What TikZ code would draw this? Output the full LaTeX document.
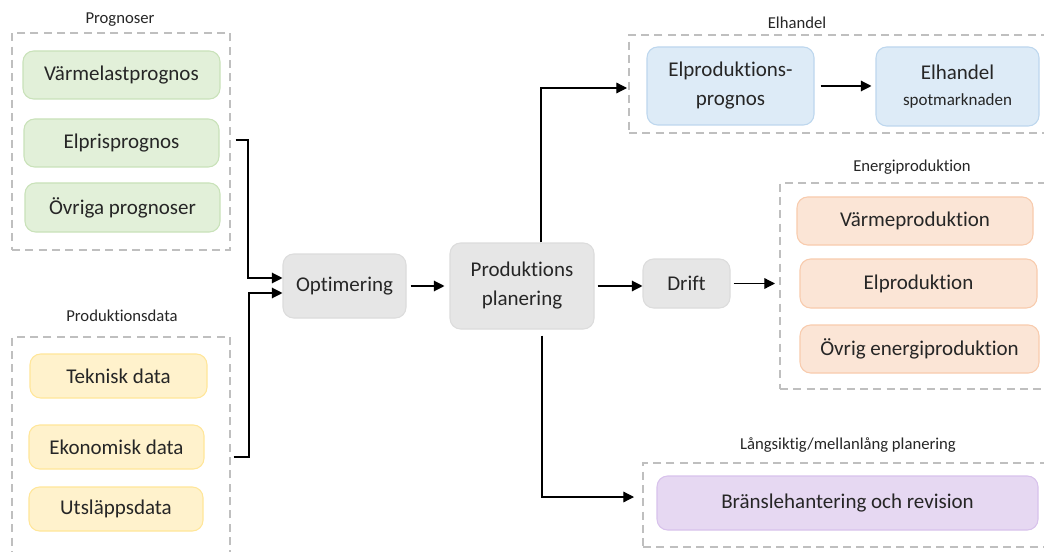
\documentclass[tikz,border=0pt]{standalone}
\usepackage{fontspec}
\setmainfont{Carlito}[Ligatures={NoCommon,NoRare,NoContextual}]
\usetikzlibrary{arrows.meta,calc}
\definecolor{txt}{HTML}{262626}
\definecolor{gfill}{HTML}{E2F0D9}\definecolor{gdraw}{HTML}{C9E2B9}
\definecolor{yfill}{HTML}{FFF2CC}\definecolor{ydraw}{HTML}{FFE699}
\definecolor{bfill}{HTML}{DDEBF7}\definecolor{bdraw}{HTML}{BDD7EE}
\definecolor{ofill}{HTML}{FBE5D6}\definecolor{odraw}{HTML}{F8CBAD}
\definecolor{pfill}{HTML}{E6D8F2}\definecolor{pdraw}{HTML}{D8C2EC}
\definecolor{kfill}{HTML}{E6E6E6}\definecolor{kdraw}{HTML}{DCDCDC}
\definecolor{frm}{HTML}{BFBFBF}
\tikzset{
  box/.style={rectangle, rounded corners=8pt, line width=0.8pt, inner sep=0pt,
    text=txt, align=center, font=\fontsize{15.75}{21.75}\selectfont},
  gbox/.style={box, fill=gfill, draw=gdraw},
  ybox/.style={box, fill=yfill, draw=ydraw},
  bbox/.style={box, fill=bfill, draw=bdraw},
  obox/.style={box, fill=ofill, draw=odraw},
  pbox/.style={box, fill=pfill, draw=pdraw},
  kbox/.style={box, fill=kfill, draw=kdraw},
  frame/.style={rectangle, draw=frm, line width=1.5pt, dash pattern=on 6pt off 4pt, inner sep=0pt},
  lbl/.style={text=txt, font=\fontsize{12.5}{14}\selectfont, inner sep=0pt},
  conn/.style={draw=black, line width=0.9pt},
  arr/.style={conn, -{Triangle[length=8pt,width=8pt]}},
}
\begin{document}
\begin{tikzpicture}[x=0.75pt,y=-0.75pt]
\clip (0,0) rectangle (1044,552);
\fill[white] (0,0) rectangle (1044,552);

% frames
\node[frame, minimum width=218*0.75pt, minimum height=217*0.75pt] (pframe) at (121,141.5) {};
\node[frame, minimum width=218*0.75pt, minimum height=230*0.75pt] (dframe) at (121,452) {};
\node[frame, minimum width=421*0.75pt, minimum height=98*0.75pt] (hframe) at (839.5,84) {};
\node[frame, minimum width=270*0.75pt, minimum height=206*0.75pt] (eframe) at (915,286) {};
\node[frame, minimum width=407*0.75pt, minimum height=84*0.75pt] (lframe) at (846.5,505) {};

% frame labels
\node[lbl] (lp) at (120,20) {Prognoser};
\node[lbl] (ld) at (122,316) {Produktionsdata};
\node[lbl] (lh) at (797,23) {Elhandel};
\node[lbl] (le) at (912,167) {Energiproduktion};
\node[lbl] (ll) at (848,445) {Långsiktig/mellanlång planering};

% green
\node[gbox, minimum width=197*0.75pt, minimum height=48*0.75pt] (vlp) at (121.5,75) {Värmelastprognos};
\node[gbox, minimum width=195*0.75pt, minimum height=48*0.75pt] (epp) at (121.5,143) {Elprisprognos};
\node[gbox, minimum width=195*0.75pt, minimum height=49*0.75pt] (ovp) at (122.5,207.5) {Övriga prognoser};

% yellow
\node[ybox, minimum width=177*0.75pt, minimum height=44*0.75pt] (tek) at (118.5,376) {Teknisk data};
\node[ybox, minimum width=175*0.75pt, minimum height=44*0.75pt] (eko) at (116.5,447) {Ekonomisk data};
\node[ybox, minimum width=174*0.75pt, minimum height=44*0.75pt] (uts) at (116,509) {Utsläppsdata};

% gray
\node[kbox, minimum width=123*0.75pt, minimum height=64*0.75pt] (opt) at (344.5,286) {Optimering};
\node[kbox, minimum width=144*0.75pt, minimum height=86*0.75pt] (pp) at (522,286) {Produktions\\planering};
\node[kbox, minimum width=87*0.75pt, minimum height=49*0.75pt] (drift) at (686.5,283.5) {Drift};

% blue
\node[bbox, minimum width=167*0.75pt, minimum height=78*0.75pt] (epr) at (730.5,86) {Elproduktions-\\prognos};
\node[bbox, minimum width=163*0.75pt, minimum height=79*0.75pt] (eh) at (957.5,86.5) {Elhandel\\[-2pt]{\fontsize{12.75}{15}\selectfont spotmarknaden}};

% orange
\node[obox, minimum width=236*0.75pt, minimum height=48*0.75pt] (vp) at (915,221) {Värmeproduktion};
\node[obox, minimum width=237*0.75pt, minimum height=49*0.75pt] (elp) at (918.5,283.5) {Elproduktion};
\node[obox, minimum width=239*0.75pt, minimum height=48*0.75pt] (oep) at (919.5,349) {Övrig energiproduktion};

% purple
\node[pbox, minimum width=381*0.75pt, minimum height=54*0.75pt] (br) at (847.5,503) {Bränslehantering och revision};

% connectors
\coordinate (j1) at (248,278);
\coordinate (j2) at (249,293);
\draw[arr, shorten <=12pt] ($(epp.east)+(0,-3)$) -| (j1) -- (opt.west |- j1);
\draw[arr, shorten <=21.75pt] ($(eko.east)+(0,10)$) -| (j2) -- (opt.west |- j2);
\draw[arr, shorten <=3pt, shorten >=3.75pt] (opt.east) -- (pp.west);
\draw[arr, shorten <=2.25pt] (pp.east) -- (pp.east -| drift.west);
\draw[arr, shorten <=2.25pt, shorten >=3pt] (drift.east) -- (drift.east -| eframe.west);
\draw[arr, shorten >=0.75pt] ($(pp.north)+(19,0)$) |- ($(hframe.west)+(0,4)$);
\draw[arr, shorten <=4.5pt, shorten >=3pt] (epr.east) -- (epr.east -| eh.west);
\draw[arr, shorten <=4.5pt, shorten >=6pt] ($(pp.south)+(20,0)$) |- ($(lframe.west)+(0,-8)$);
\end{tikzpicture}
\end{document}
